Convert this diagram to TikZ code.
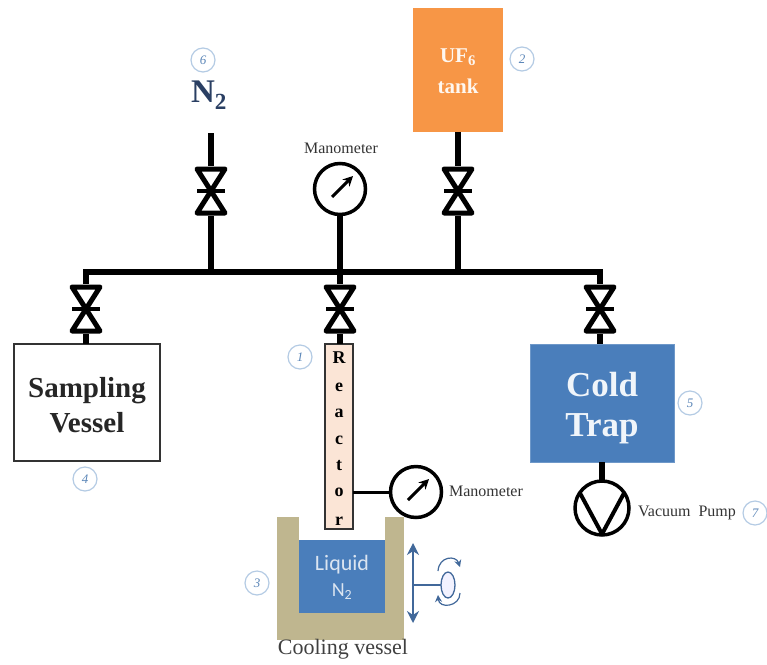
\documentclass[tikz,border=0pt]{standalone}
\usepackage{fontspec}
\setmainfont{Liberation Serif}
\newfontfamily\sansf{Carlito}
\usetikzlibrary{arrows.meta,shapes.geometric}
\definecolor{trapblue}{HTML}{4A7EBB}
\definecolor{tankorange}{HTML}{F79646}
\definecolor{peach}{HTML}{FBE5D6}
\definecolor{sand}{HTML}{BFB68F}
\definecolor{navy}{HTML}{2A3F63}
\definecolor{arrowblue}{HTML}{41689A}
\definecolor{ringblue}{HTML}{B4CBE4}
\definecolor{numblue}{HTML}{5B86B8}
\newcommand{\fs}[1]{\fontsize{#1}{#1}\selectfont}
\tikzset{
  pipe/.style={line width=6pt},
  thinpipe/.style={line width=3pt},
  valve/.style={minimum width=36pt,minimum height=50pt,inner sep=0pt,outer sep=0pt,
    path picture={\begin{scope}[shift={(path picture bounding box.center)}]
      \draw[line width=5pt,line join=round] (-14,-22) -- (14,-22) -- (-14,22) -- (14,22) -- cycle;
      \draw[line width=4.5pt] (-14,0) -- (14,0);
    \end{scope}}},
  gauge/.style={circle,draw,line width=3.5pt,fill=white,minimum size=51pt,inner sep=0pt,outer sep=0pt,
    path picture={\begin{scope}[shift={(path picture bounding box.center)}]
      \draw[line width=3pt,-{Stealth[length=10pt,width=10pt]}] (-8,8) -- (13,-13);
    \end{scope}}},
  pump/.style={circle,draw,line width=3.5pt,fill=white,minimum size=54pt,inner sep=0pt,outer sep=0pt,
    path picture={\begin{scope}[shift={(path picture bounding box.center)}]
      \draw[line width=4pt,line join=round] (-28,-26) -- (0,26) -- (28,-26);
    \end{scope}}},
  numring/.style={circle,draw=ringblue,line width=1.2pt,fill=white,minimum size=24pt,inner sep=0pt,
    text=numblue,font=\fs{13}\itshape},
  box/.style={inner sep=0pt,outer sep=0pt,align=center},
  smalllabel/.style={inner sep=0pt,text=black!80,font=\fs{16}},
  rletter/.style={inner sep=0pt,font=\fs{18}\bfseries},
  bluearrow/.style={draw=arrowblue,line width=1.5pt},
  bigblack/.style={inner sep=0pt,anchor=base,text=black!85,font=\fs{29}\bfseries},
  bigwhite/.style={inner sep=0pt,anchor=base,text=white!92!trapblue,font=\fs{35}\bfseries},
}
\begin{document}
\begin{tikzpicture}[x=1pt,y=-1pt]
\useasboundingbox (0,0) rectangle (767,664);
% junctions on the header
\coordinate (hl) at (86,272);
\coordinate (hn) at (211,272);
\coordinate (hc) at (340,272);
\coordinate (ht) at (458,272);
\coordinate (hr) at (600,272);
\coordinate (ntop) at (211,133);
% equipment
\node[box,draw=black!80,line width=2.5pt,fill=white,minimum width=146pt,minimum height=117pt] (sv) at (87,402.5) {};
\node[bigblack] (svt1) at (87,397) {Sampling};
\node[bigblack] (svt2) at (87,432) {Vessel};
\node[box,fill=tankorange,minimum width=90pt,minimum height=124pt] (uf) at (458,70) {};
\node[box,fill=trapblue,draw=trapblue!80,minimum width=144pt,minimum height=118pt] (ct) at (602,403) {};
\node[bigwhite] (ctt1) at (602,396) {Cold};
\node[bigwhite] (ctt2) at (602,436) {Trap};
\node[box,text=white!92!tankorange,font=\fs{21}\bfseries] (uft) at (458,57) {UF\textsubscript{6}};
\node[box,text=white!92!tankorange,font=\fs{21}\bfseries] (tk) at (458,86) {tank};
% cooling vessel
\node[box,fill=sand,minimum width=127pt,minimum height=123pt] (cv) at (340.5,578.5) {};
\node[box,fill=white,minimum width=86.5pt,minimum height=23pt] (cvo) at (342,528.5) {};
\node[box,fill=trapblue,minimum width=86.5pt,minimum height=73pt] (ln) at (342,576.5) {};
\node[box,text=white!80!trapblue,font=\sansf\fs{22}] (ln1) at (342,565) {Liquid};
\node[box,text=white!80!trapblue,font=\sansf\fs{20}] (ln2) at (342,592) {N\textsubscript{2}};
% reactor
\node[box,draw=black!80,line width=2.5pt,fill=peach,minimum width=28pt,minimum height=185pt] (re) at (339,436.5) {};
\foreach \n/\l/\yy in {a/R/358,b/e/387,c/a/413,d/c/440,e/t/466,f/o/492,g/r/521}
  \node[rletter] (let\n) at (339,\yy) {\l};
% valves
\node[valve] (v1) at (211,191) {};
\node[valve] (v2) at (458,191) {};
\node[valve] (v3) at (86,309) {};
\node[valve] (v4) at (340,309) {};
\node[valve] (v5) at (600,309) {};
% gauges and pump
\node[gauge] (g1) at (340,189) {};
\node[gauge] (g2) at (416,492) {};
\node[pump] (vp) at (602,508) {};
% pipes
\draw[pipe,line cap=rect] (hl) -- (hr);
\draw[pipe] (hl) -- (v3);
\draw[pipe] (v3) -- (v3 |- sv.north);
\draw[pipe] (ntop) -- (v1);
\draw[pipe] (v1) -- (hn);
\draw[pipe] (uf.south) -- (v2);
\draw[pipe] (v2) -- (ht);
\draw[pipe] (g1) -- (hc);
\draw[pipe] (hc) -- (v4);
\draw[pipe] (v4) -- (v4 |- re.north);
\draw[pipe] (hr) -- (v5);
\draw[pipe] (v5) -- (v5 |- ct.north);
\draw[pipe] (ct.south) -- (vp);
\draw[thinpipe] (re.east |- g2) -- (g2);
% rotation / lift symbol
\coordinate (lifttop) at (413,543);
\coordinate (liftbot) at (413,623);
\coordinate (liftmid) at (413,585);
\node[ellipse,draw=arrowblue,line width=1.3pt,fill=blue!5,minimum width=14pt,minimum height=26pt,inner sep=0pt,outer sep=0pt] (rot) at (448,585) {};
\draw[bluearrow,{Stealth[length=12pt,width=12pt]}-{Stealth[length=12pt,width=12pt]}] (lifttop) -- (liftbot);
\draw[bluearrow] (liftmid) -- (rot);
\draw[arrowblue,line width=1.2pt,-{Stealth[length=7pt,width=7pt]}] (438,571) .. controls (439,556) and (456,555) .. (460,567);
\draw[arrowblue,line width=1.2pt,-{Stealth[length=7pt,width=7pt]}] (460,593) .. controls (460,607) and (439,609) .. (438,595);
% labels
\node[inner sep=0pt,text=navy,font=\fs{33}\bfseries] (n2) at (209,95) {N\textsubscript{2}};
\node[smalllabel] (m1) at (341,148) {Manometer};
\node[smalllabel] (m2) at (486,491) {Manometer};
\node[smalllabel] (vl) at (687,513) {Vacuum\ \ Pump};
\node[inner sep=0pt,text=black!75,font=\fs{22}] (cl) at (343,649) {Cooling vessel};
% numbers
\foreach \nm/\t/\xx/\yy in {c1/1/300/357,c2/2/522/59,c3/3/257/583,c4/4/85/479,c5/5/690/403,c6/6/203/60,c7/7/755/513}
  \node[numring] (\nm) at (\xx,\yy) {\t};
\end{tikzpicture}
\end{document}
